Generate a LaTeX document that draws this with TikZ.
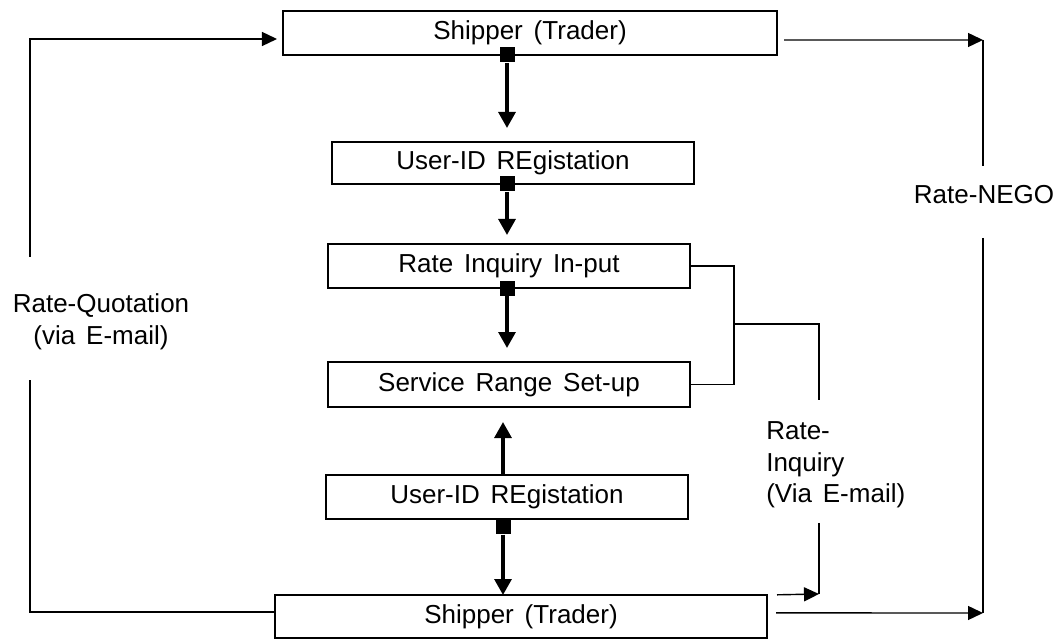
\documentclass[tikz,border=0pt]{standalone}
\usepackage{fontspec}
\setmainfont{Liberation Sans}[WordSpace=1.5]
\usepackage{tikz}
\usetikzlibrary{arrows.meta,positioning}

\begin{document}
\begin{tikzpicture}
		[x=0.25mm, y=-0.25mm, >={Triangle[length=3.75mm,width=3.5mm]},
		 every node/.style = {font=\fontsize{18.5}{22.5}\selectfont},
		 box/.style  = {draw, shape=rectangle, line width=0.9pt, inner sep=0pt, outer sep=0pt,
		                minimum width=90.5mm, minimum height=11mm, align=center},
		 plug/.style = {fill, shape=rectangle, inner sep=0pt, minimum size=3.75mm},
		 flow/.style = {-{Triangle[length=4mm,width=4.2mm]}, line width=2.6pt},
		 link/.style = {line width=1pt},
		 note/.style = {align=center, inner sep=0pt},
		]

	\useasboundingbox (0,0) rectangle (1060,640);

	% main column
	\node [box, minimum width=123.5mm]                          (ship1) at (530,33) {Shipper (Trader)};
	\node [box, minimum height=10.5mm, below=21.75mm of ship1, xshift=-4.25mm] (uid1)  {User-ID REgistation};
	\node [box, below=15mm of uid1, xshift=-1mm]                (inq)   {Rate Inquiry In-put};
	\node [box, minimum height=11.25mm, below=18.5mm of inq]    (svc)   {Service Range Set-up};
	\node [box, below=17mm of svc, xshift=-0.5mm]               (uid2)  {User-ID REgistation};
	\node [box, minimum width=123mm, minimum height=10.75mm, below=19mm of uid2, xshift=3.5mm] (ship2) {Shipper (Trader)};

	\coordinate (col)  at (507,0);
	\coordinate (col2) at (503,0);
	\node [plug]               (sq1) at (ship1.south -| col) {};
	\node [plug]               (sq2) at (uid1.south -| col)  {};
	\node [plug]               (sq3) at (inq.south -| col)   {};
	\node [plug, anchor=north] (sq4) at (uid2.south -| col2) {};

	\draw [flow, shorten >=3.5mm]  (sq1.south) -- (uid1.north -| col);
	\draw [flow, shorten >=2.25mm] (sq2.south) -- (inq.north -| col);
	\draw [flow, shorten >=3.5mm]  (sq3.south) -- (svc.north -| col);
	\draw [flow, shorten >=3.75mm] (uid2.north -| col2) -- (svc.south -| col2);
	\draw [flow]                   (sq4.south) -- (ship2.north -| col2);

	% labels
	\node [note]              (quote) at (101,322) {Rate-Quotation\\(via E-mail)};
	\node [note]              (nego)  at (984,195) {Rate-NEGO};
	\node [note, anchor=west, align=left] (ask) at (766,465) {Rate-\\Inquiry\\(Via E-mail)};

	\coordinate (quoteA)  at (30,257);
	\coordinate (quoteB)  at (30,380);
	\coordinate (negotop) at (983,40);
	\coordinate (negoA)   at (983,166);
	\coordinate (negoB)   at (983,238);
	\coordinate (negobot) at (983,613);
	\coordinate (fork)    at (734,324);
	\coordinate (askA)    at (819,400);
	\coordinate (askB)    at (819,523);
	\coordinate (askC)    at (819,594);

	% rate quotation loop
	\draw [link, ->, shorten >=1.5mm] (quoteA) |- ([yshift=-1.5mm]ship1.west);
	\draw [link] ([yshift=1.1mm]ship2.west) -| (quoteB);

	% rate nego
	\draw [link, ->, shorten <=1.75mm] ([yshift=-1.75mm]ship1.east) -- (negotop);
	\draw [link] (negotop) -- (negoA);
	\draw [link] (negoB) -- (negobot);
	\draw [link, ->, shorten <=2.25mm] ([yshift=0.9mm]ship2.east) -- (negobot);

	% rate inquiry
	\draw [link] (inq.east) -| (fork) |- (svc.east);
	\draw [link] (fork) -| (askA);
	\draw [link] (askB) -- (askC);
	\draw [link, ->, shorten <=2.5mm] (ship2.north east) -- (askC);

\end{tikzpicture}
\end{document}
